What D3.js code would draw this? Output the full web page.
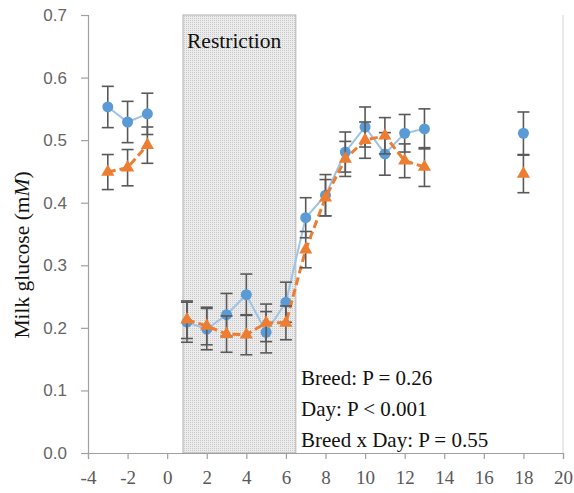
<!DOCTYPE html>
<meta charset="utf-8">
<style>
body { margin: 0; background: #fff; }
svg text { font-family: "Liberation Serif", "DejaVu Serif", serif; }
.axis path, .axis line { stroke: #a0a0a0; stroke-width: 1.2; }
.xaxis text { fill: #595959; font-size: 19px; font-family: "Liberation Serif", "DejaVu Serif", serif; }
.yaxis text { fill: #666; font-size: 17px; font-family: "Liberation Sans", Arial, sans-serif; }
.ebar { stroke: #595959; stroke-width: 1.6; fill: none; }
</style>
<svg width="574" height="493"></svg>
<script src="https://cdn.jsdelivr.net/npm/d3@7"></script>
<script>

// days relative to start of restriction
var days = [-3, -2, -1, 1, 2, 3, 4, 5, 6, 7, 8, 9, 10, 11, 12, 13, 18];

// breed 1 (blue circles)
var glucoseA = [0.553, 0.529, 0.542, 0.209, 0.198, 0.221, 0.253, 0.193, 0.241, 0.376, 0.412, 0.481, 0.521, 0.478, 0.511, 0.518, 0.511];
var errA     = [0.033, 0.033, 0.033, 0.032, 0.033, 0.034, 0.033, 0.033, 0.032, 0.032, 0.033, 0.032, 0.032, 0.034, 0.030, 0.032, 0.034];

// breed 2 (orange triangles)
var glucoseB = [0.449, 0.456, 0.492, 0.213, 0.203, 0.190, 0.189, 0.208, 0.208, 0.325, 0.408, 0.470, 0.500, 0.507, 0.467, 0.457, 0.446];
var errB     = [0.028, 0.029, 0.029, 0.030, 0.030, 0.029, 0.032, 0.030, 0.027, 0.029, 0.029, 0.028, 0.029, 0.029, 0.027, 0.031, 0.030];

var restriction = [0.8, 6.5];
var xTicks = d3.range(-4, 21, 2);
var yTicks = [0, 0.1, 0.2, 0.3, 0.4, 0.5, 0.6, 0.7];
var stats = ["Breed: P = 0.26", "Day: P < 0.001", "Breed x Day: P = 0.55"];

var svg = d3.select("svg");

var x = d3.scaleLinear().domain([-4, 20]).range([88, 563]);
var y = d3.scaleLinear().domain([0, 0.7]).range([453, 15]);

// dotted fill for the restriction period
var pat = svg.append("defs").append("pattern")
    .attr("id", "dots")
    .attr("width", 2).attr("height", 2)
    .attr("patternUnits", "userSpaceOnUse");
pat.append("rect").attr("width", 2).attr("height", 2).attr("fill", "#ececec");
pat.append("rect").attr("width", 1).attr("height", 1).attr("fill", "#c9c9c9");

svg.append("rect")
    .attr("x", x(restriction[0]))
    .attr("y", y(0.7))
    .attr("width", x(restriction[1]) - x(restriction[0]))
    .attr("height", y(0) - y(0.7))
    .attr("fill", "url(#dots)")
    .attr("stroke", "#b0b0b0")
    .attr("stroke-width", 1);

svg.append("text")
    .attr("x", x(restriction[0]) + 4)
    .attr("y", 48)
    .attr("font-size", 21.5)
    .attr("fill", "#111")
    .text("Restriction");

// faint right border at x = 20
svg.append("line")
    .attr("x1", x(20)).attr("x2", x(20))
    .attr("y1", y(0.7)).attr("y2", y(0))
    .attr("stroke", "#d4d4d4");

// axes
svg.append("g")
    .attr("class", "axis xaxis")
    .attr("transform", "translate(0," + y(0) + ")")
    .call(d3.axisBottom(x).tickValues(xTicks).tickFormat(d => String(d))
      .tickSizeOuter(0).tickSize(6).tickPadding(12))
    .attr("font-family", null).attr("font-size", null);

svg.append("g")
    .attr("class", "axis yaxis")
    .attr("transform", "translate(" + x(-4) + ",0)")
    .call(d3.axisLeft(y).tickValues(yTicks).tickFormat(d3.format(".1f"))
      .tickSizeOuter(0).tickSize(7).tickPadding(14))
    .attr("font-family", null).attr("font-size", null);

var ylab = svg.append("text")
    .attr("transform", "translate(29,255) rotate(-90)")
    .attr("text-anchor", "middle")
    .attr("font-size", 21.5)
    .attr("fill", "#111");
ylab.append("tspan").text("Milk  glucose (m");
ylab.append("tspan").attr("font-style", "italic").text("M");
ylab.append("tspan").text(")");

// series
function rows(vals, errs) {
  return days.map((d, i) => ({day: d, v: vals[i], e: errs[i]}));
}
function segments(data) {
  var segs = [], cur = [];
  data.forEach((d, i) => {
    if (i > 0 && d.day - data[i - 1].day > 1) { segs.push(cur); cur = []; }
    cur.push(d);
  });
  segs.push(cur);
  return segs;
}

var series = [
  {data: rows(glucoseA, errA), line: "#9dc3e6", width: 2, dash: null, marker: "circle", color: "#5b9bd5"},
  {data: rows(glucoseB, errB), line: "#ed7d31", width: 3, dash: "8,4", marker: "triangle", color: "#ed7d31"}
];

var line = d3.line().x(d => x(d.day)).y(d => y(d.v));

series.forEach(s => {
  var g = svg.append("g");
  g.selectAll("path.seg")
    .data(segments(s.data))
    .enter().append("path")
    .attr("d", line)
    .attr("fill", "none")
    .attr("stroke", s.line)
    .attr("stroke-width", s.width)
    .attr("stroke-dasharray", s.dash);

  var eb = g.selectAll("g.eb").data(s.data).enter().append("g").attr("class", "ebar");
  eb.append("line")
    .attr("x1", d => x(d.day)).attr("x2", d => x(d.day))
    .attr("y1", d => y(d.v - d.e)).attr("y2", d => y(d.v + d.e));
  eb.append("line")
    .attr("x1", d => x(d.day) - 6).attr("x2", d => x(d.day) + 6)
    .attr("y1", d => y(d.v + d.e)).attr("y2", d => y(d.v + d.e));
  eb.append("line")
    .attr("x1", d => x(d.day) - 6).attr("x2", d => x(d.day) + 6)
    .attr("y1", d => y(d.v - d.e)).attr("y2", d => y(d.v - d.e));

  var sym = d3.symbol().type(s.marker === "circle" ? d3.symbolCircle : d3.symbolTriangle)
      .size(s.marker === "circle" ? 95 : 75);
  g.selectAll("path.mk")
    .data(s.data)
    .enter().append("path")
    .attr("d", sym)
    .attr("transform", d => "translate(" + x(d.day) + "," + y(d.v) + ")")
    .attr("fill", s.color);
});

// statistics
svg.selectAll("text.stat")
    .data(stats)
    .enter().append("text")
    .attr("x", 301)
    .attr("y", (d, i) => 385 + i * 31)
    .attr("font-size", 21)
    .attr("fill", "#111")
    .text(d => d);

</script>
